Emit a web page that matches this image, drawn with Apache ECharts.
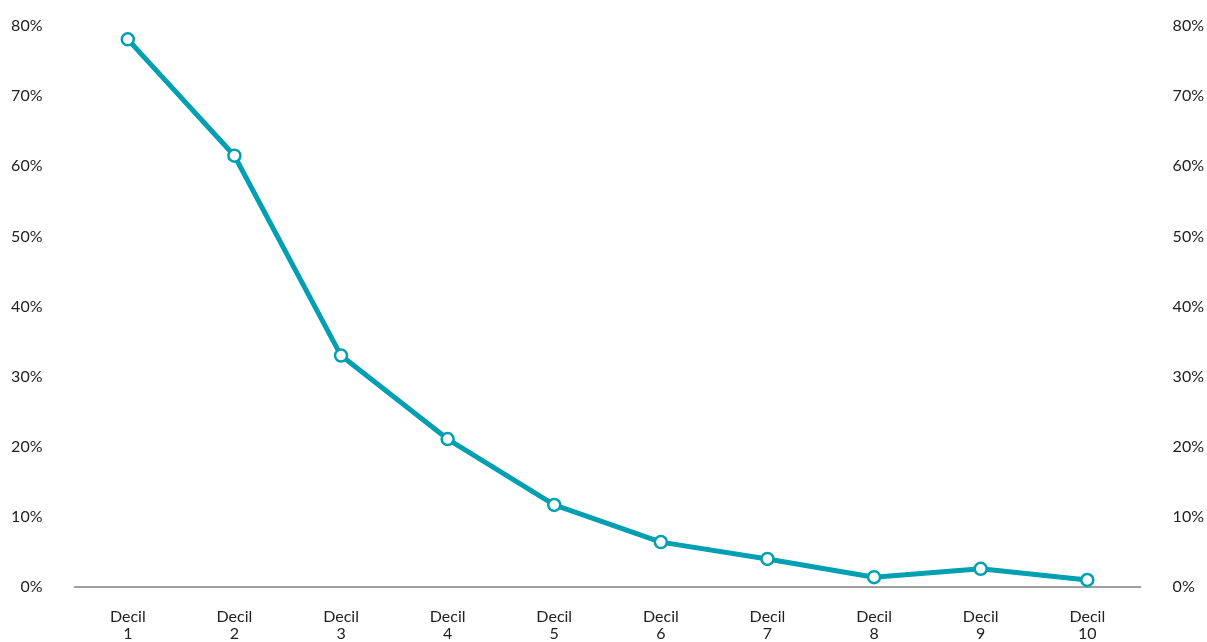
<!DOCTYPE html>
<html>
<head>
<meta charset="utf-8">
<script src="https://cdn.jsdelivr.net/npm/echarts@6/dist/echarts.min.js"></script>
<style>
  html, body { margin: 0; padding: 0; background: #fff; }
  #chart { width: 1207px; height: 642px; }
</style>
</head>
<body>
<div id="chart"></div>
<script>
// Share per decile (percent)
const categories = ['Decil\n1', 'Decil\n2', 'Decil\n3', 'Decil\n4', 'Decil\n5',
                    'Decil\n6', 'Decil\n7', 'Decil\n8', 'Decil\n9', 'Decil\n10'];
const shares = [78.1, 61.5, 33.0, 21.1, 11.7, 6.4, 4.0, 1.4, 2.6, 1.0];
const yTicks = { min: 0, max: 80, step: 10 };

const FONT = 'Lato, "Open Sans", sans-serif';
const TEAL = '#009fb1';

const yAxisBase = {
  type: 'value',
  min: yTicks.min,
  max: yTicks.max,
  interval: yTicks.step,
  splitLine: { show: false },
  axisLine: { show: false },
  axisTick: { show: false },
  axisLabel: {
    formatter: '{value}%',
    color: '#222',
    fontFamily: FONT,
    fontSize: 16,
    margin: 32
  }
};

const chart = echarts.init(document.getElementById('chart'));
chart.setOption({
  animation: false,
  backgroundColor: '#fff',
  grid: { left: 74.5, right: 63.5, top: 26, bottom: 54, containLabel: false },
  xAxis: {
    type: 'category',
    data: categories,
    boundaryGap: true,
    axisLine: { lineStyle: { color: '#808080', width: 1.5 } },
    axisTick: { show: false },
    axisLabel: {
      color: '#222',
      fontFamily: FONT,
      fontSize: 16,
      lineHeight: 17,
      margin: 21,
      interval: 0
    }
  },
  yAxis: [
    Object.assign({}, yAxisBase, { position: 'left' }),
    Object.assign({}, yAxisBase, { position: 'right' })
  ],
  series: [{
    type: 'line',
    data: shares,
    yAxisIndex: 0,
    symbol: 'circle',
    symbolSize: 12,
    lineStyle: { color: TEAL, width: 5 },
    itemStyle: { color: '#fff', borderColor: TEAL, borderWidth: 2.5 }
  }]
});
</script>
</body>
</html>
